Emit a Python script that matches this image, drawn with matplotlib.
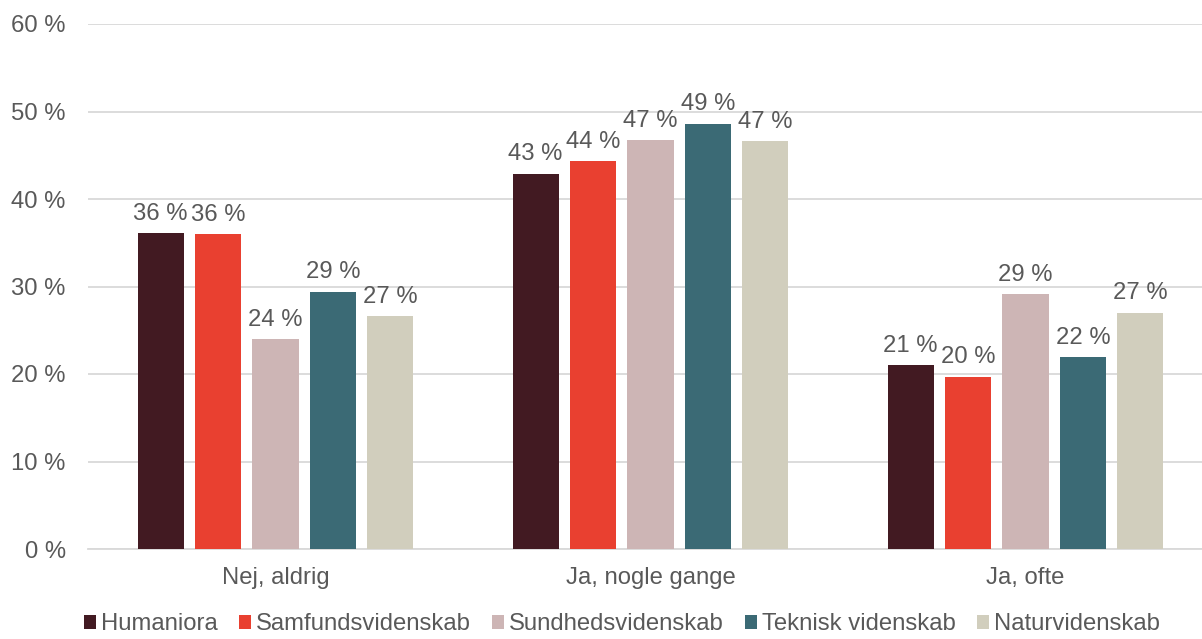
import numpy as np
import matplotlib.pyplot as plt

# Data
categories = ["Nej, aldrig", "Ja, nogle gange", "Ja, ofte"]
series = ["Humaniora", "Samfundsvidenskab", "Sundhedsvidenskab",
          "Teknisk videnskab", "Naturvidenskab"]
humaniora = [36.1, 42.9, 21.0]
samfund = [36.0, 44.3, 19.7]
sundhed = [24.0, 46.7, 29.1]
teknisk = [29.4, 48.6, 21.9]
natur = [26.6, 46.6, 27.0]
values = [humaniora, samfund, sundhed, teknisk, natur]
yticks = [0, 10, 20, 30, 40, 50, 60]

colors = ["#421a22", "#e94030", "#cdb5b5", "#3b6a75", "#d1cebd"]
text_col = "#595959"

plt.rcParams['font.family'] = ['Liberation Sans', 'DejaVu Sans']
fs = 17.2

fig = plt.figure(figsize=(12.02, 6.39), dpi=100)
ax = fig.add_axes([88/1202, 1 - 549/639, 1125/1202, 525/639])

x = np.arange(len(categories))
step = 0.1533
width = 0.1227
for i, (name, vals) in enumerate(zip(series, values)):
    pos = x + (i - 2) * step
    bars = ax.bar(pos, vals, width, color=colors[i], label=name, zorder=3)
    for b, v in zip(bars, vals):
        ax.annotate(f"{round(v):.0f} %", (b.get_x() + b.get_width()/2, v),
                    xytext=(0, 6), textcoords="offset points",
                    ha="center", va="bottom", fontsize=fs, color=text_col)

ax.set_xlim(-0.5, 2.5)
ax.set_ylim(0, 60)
ax.set_yticks(yticks)
ax.set_yticklabels([f"{t} %" for t in yticks])
ax.set_xticks(x)
ax.set_xticklabels(categories)
ax.tick_params(axis="both", length=0, labelsize=fs, labelcolor=text_col)
ax.tick_params(axis="y", pad=16)
ax.tick_params(axis="x", pad=13)
ax.grid(axis="y", color="#d9d9d9", linewidth=1.3, zorder=0)
for s in ["top", "right", "left"]:
    ax.spines[s].set_visible(False)
ax.spines["bottom"].set_color("#d9d9d9")
ax.spines["bottom"].set_linewidth(1.3)

leg = fig.legend(loc="lower center", bbox_to_anchor=(622/1202, -0.028), ncol=5,
                 frameon=False, fontsize=fs, handlelength=0.5, handleheight=0.5,
                 handletextpad=0.2, columnspacing=0.9)
for t in leg.get_texts():
    t.set_color(text_col)

fig.savefig("out.png", dpi=100)
